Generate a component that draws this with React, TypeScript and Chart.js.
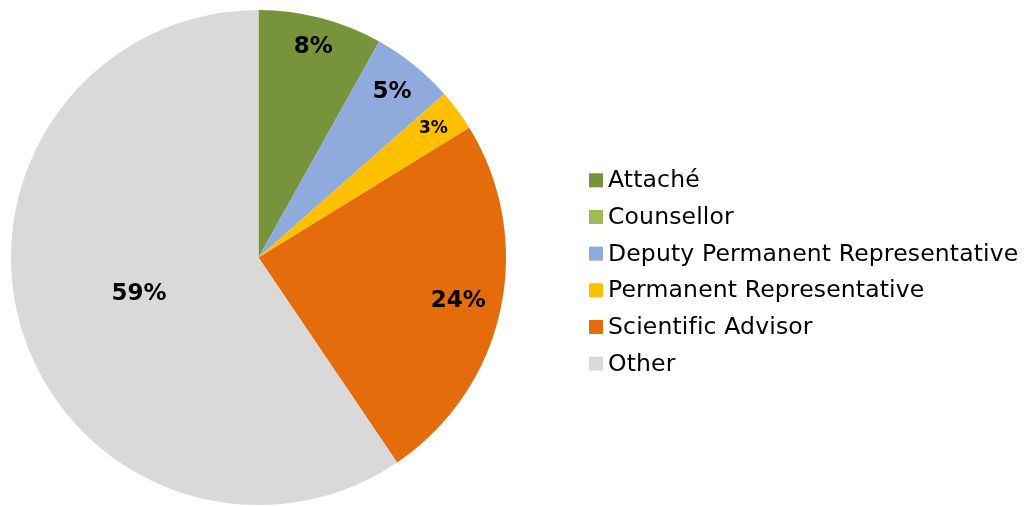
import React, { useEffect, useRef } from 'react';
import { Chart, registerables } from 'chart.js';

Chart.register(...registerables);

const categories = [
  'Attaché',
  'Counsellor',
  'Deputy Permanent Representative',
  'Permanent Representative',
  'Scientific Advisor',
  'Other',
];
const counts = [3, 0, 2, 1, 9, 22];
const colors = ['#77933C', '#9BBB59', '#8FAADC', '#FFC000', '#E46C0A', '#D9D9D9'];

// label placement (fraction of outer radius) and font size per slice
const labelRadius = [0.877, 0.85, 0.858, 0.879, 0.826, 0.505];
const labelFontSize = [23, 23, 23, 17, 23, 23];

const FONT = '"DejaVu Sans", Verdana, sans-serif';

const sliceLabels = {
  id: 'sliceLabels',
  afterDatasetsDraw(chart: any) {
    const ctx = chart.ctx;
    const meta = chart.getDatasetMeta(0);
    const data = chart.data.datasets[0].data as number[];
    const total = data.reduce((a, b) => a + b, 0);
    ctx.save();
    ctx.fillStyle = '#000';
    ctx.textAlign = 'center';
    ctx.textBaseline = 'middle';
    meta.data.forEach((arc: any, i: number) => {
      const v = data[i];
      if (!v) return;
      const p = arc.getProps(['x', 'y', 'startAngle', 'endAngle', 'outerRadius'], true);
      const mid = (p.startAngle + p.endAngle) / 2;
      const r = p.outerRadius * labelRadius[i];
      ctx.font = `bold ${labelFontSize[i]}px ${FONT}`;
      ctx.fillText(`${Math.round((v / total) * 100)}%`, p.x + Math.cos(mid) * r, p.y + Math.sin(mid) * r);
    });
    ctx.restore();
  },
};

const sideLegend = {
  id: 'sideLegend',
  afterDraw(chart: any) {
    const ctx = chart.ctx;
    const labels = chart.data.labels as string[];
    const bg = chart.data.datasets[0].backgroundColor as string[];
    const boxX = 589;
    const textX = 608;
    const top = 173.3;
    const step = 36.67;
    const box = 14;
    ctx.save();
    ctx.font = `23.5px ${FONT}`;
    try {
      (ctx as any).letterSpacing = '0.15px';
    } catch (e) {
      /* ignore */
    }
    ctx.textAlign = 'left';
    ctx.textBaseline = 'alphabetic';
    labels.forEach((lab, i) => {
      const y = top + i * step;
      ctx.fillStyle = bg[i];
      ctx.fillRect(boxX, y, box, box);
      ctx.fillStyle = '#000';
      ctx.fillText(lab, textX, y + 14);
    });
    ctx.restore();
  },
};

export default function App() {
  const ref = useRef<HTMLCanvasElement | null>(null);
  useEffect(() => {
    if (!ref.current) return;
    const chart = new Chart(ref.current, {
      type: 'pie',
      data: {
        labels: categories,
        datasets: [
          {
            data: counts,
            backgroundColor: colors,
            borderWidth: 0,
          },
        ],
      },
      options: {
        animation: false,
        responsive: true,
        maintainAspectRatio: false,
        layout: { padding: { top: 10, bottom: 1, left: 11, right: 521 } },
        plugins: {
          legend: { display: false },
          tooltip: { enabled: false },
        },
      },
      plugins: [sliceLabels, sideLegend],
    });
    return () => chart.destroy();
  }, []);
  return (
    <div style={{ position: 'absolute', left: 0, top: 0, width: 1027, height: 506, background: '#fff' }}>
      <canvas ref={ref} />
    </div>
  );
}
